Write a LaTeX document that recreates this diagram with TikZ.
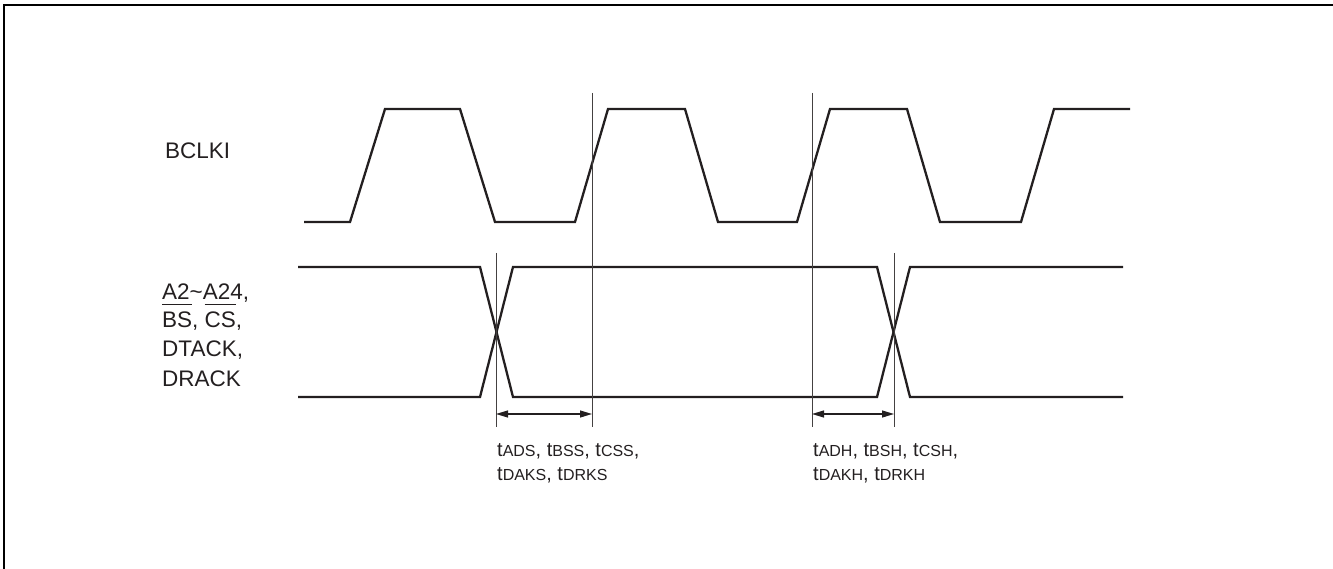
\documentclass[tikz,border=0pt]{standalone}
\usepackage{fontspec}
\setmainfont{Liberation Sans}
\usetikzlibrary{arrows.meta}
\newcommand\myovl[1]{\setbox0\hbox{#1}\rlap{\rule[\dimexpr\ht0+7pt\relax]{\wd0}{1.1pt}}\box0}
\newcommand\tsub[1]{{\fontsize{16}{18}\selectfont #1}}
\definecolor{ink}{HTML}{231F20}
\begin{document}
\begin{tikzpicture}[x=1pt,y=-1pt,
  wave/.style={draw=ink,line width=2.3pt,line join=miter},
  marker/.style={draw=ink!85,line width=1pt},
  dim/.style={draw=ink,line width=1.2pt,{Triangle[length=12pt,width=7pt]}-{Triangle[length=12pt,width=7pt]}},
  biglabel/.style={anchor=base west,inner sep=0pt,font=\fontsize{22.5}{29}\selectfont,text=ink},
  tlabel/.style={anchor=base west,inner sep=0pt,font=\fontsize{20}{23}\selectfont,text=ink}]
\useasboundingbox (0,0) rectangle (1333,569);
% frame
\draw[line width=2pt,black] (4,569) -- (4,5) -- (1333,5);
% clock
\draw[wave] (304,222) -- (350,222) -- (385,109) -- (460,109) -- (495,222) -- (575,222) -- (608,109) -- (685,109) -- (718,222) -- (797,222) -- (830,109) -- (907,109) -- (940,222) -- (1021,222) -- (1054,109) -- (1130,109);
% data lines
\draw[wave] (298,267) -- (480,267) -- (513,397) -- (877,397) -- (910,267) -- (1123,267);
\draw[wave] (298,397) -- (480,397) -- (513,267) -- (877,267) -- (910,397) -- (1123,397);
% marker lines
\coordinate (v1t) at (496,253); \coordinate (v1b) at (496,427);
\coordinate (v2t) at (592,93);  \coordinate (v2b) at (592,427);
\coordinate (v3t) at (812,93);  \coordinate (v3b) at (812,427);
\coordinate (v4t) at (894,253); \coordinate (v4b) at (894,427);
\draw[marker] (v1t) -- (v1b);
\draw[marker] (v2t) -- (v2b);
\draw[marker] (v3t) -- (v3b);
\draw[marker] (v4t) -- (v4b);
% dimension arrows
\coordinate (a1) at (496,414); \coordinate (a2) at (592,414);
\coordinate (a3) at (812,414); \coordinate (a4) at (894,414);
\draw[dim] (a1) -- (a2);
\draw[dim] (a3) -- (a4);
% labels
\node[biglabel] (clk) at (165,158.3) {BCLKI};
\node[biglabel] (sig1) at (162,299.3) {A2\textasciitilde A24,};
\node[biglabel] (sig2) at (162,327.5) {\myovl{BS}, \myovl{CS},};
\node[biglabel] (sig3) at (162,356.7) {DTACK,};
\node[biglabel] (sig4) at (162,386) {DRACK};
\node[tlabel] (setup1) at (497,456.7) {t\tsub{ADS}, t\tsub{BSS}, t\tsub{CSS},};
\node[tlabel] (setup2) at (497,480) {t\tsub{DAKS}, t\tsub{DRKS}};
\node[tlabel] (hold1) at (813,456.7) {t\tsub{ADH}, t\tsub{BSH}, t\tsub{CSH},};
\node[tlabel] (hold2) at (813,480) {t\tsub{DAKH}, t\tsub{DRKH}};
\end{tikzpicture}
\end{document}
